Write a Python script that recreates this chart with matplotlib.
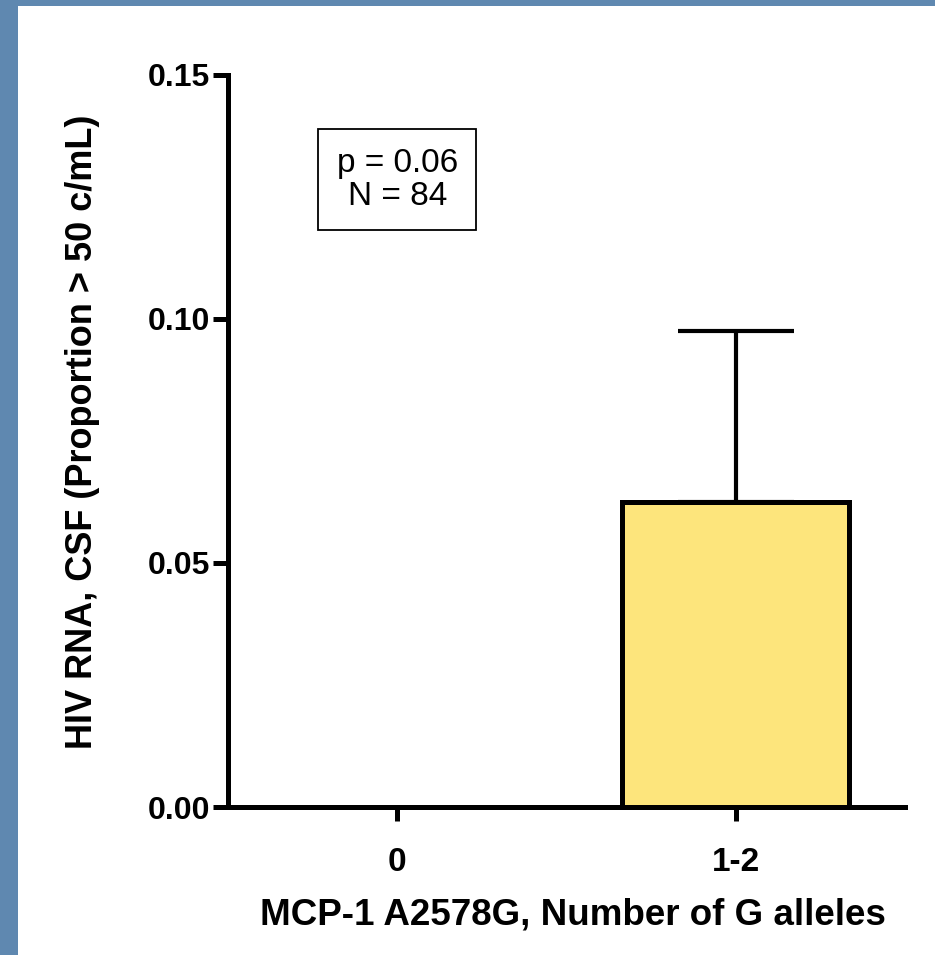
import matplotlib
matplotlib.use("Agg")
import matplotlib.pyplot as plt
from matplotlib.patches import Rectangle

categories = ["0", "1-2"]
values = [0.0, 0.0625]
errors_upper = [0.0, 0.035]
yticks = [0.00, 0.05, 0.10, 0.15]
ytick_labels = ["0.00", "0.05", "0.10", "0.15"]
annotation = "p = 0.06\nN = 84"
xlabel = "MCP-1 A2578G, Number of G alleles"
ylabel = "HIV RNA, CSF (Proportion > 50 c/mL)"

plt.rcParams['font.family'] = ['Liberation Sans', 'DejaVu Sans']

fig = plt.figure(figsize=(9.35, 9.55), dpi=100)
fig.patch.set_facecolor('white')
# blue slide border
fig.add_artist(Rectangle((0, 0), 18/935, 1, transform=fig.transFigure,
                         facecolor='#5f88b0', edgecolor='none', zorder=0))
fig.add_artist(Rectangle((0, 1 - 6/955), 1, 6/955, transform=fig.transFigure,
                         facecolor='#5f88b0', edgecolor='none', zorder=0))

ax = fig.add_axes([228/935, 1 - 807/955, (905 - 228)/935, (807 - 75)/955])
x = list(range(len(categories)))
ax.bar(x, values, width=0.67, color='#fde57c', edgecolor='black', linewidth=3.6, zorder=2)
ax.errorbar(x[1:], values[1:], yerr=[[0.0], errors_upper[1:]], fmt='none',
            ecolor='black', elinewidth=3, capsize=42, capthick=3, zorder=1)

ax.set_xlim(-0.5, 1.5)
ax.set_ylim(0, 0.15)
ax.set_xticks(x)
ax.set_xticklabels(categories, fontsize=24, fontweight='bold')
ax.set_yticks(yticks)
ax.set_yticklabels(ytick_labels, fontsize=23, fontweight='bold')

for s in ['top', 'right']:
    ax.spines[s].set_visible(False)
for s in ['left', 'bottom']:
    ax.spines[s].set_linewidth(3.6)
ax.tick_params(axis='y', length=11, width=3.6, pad=2)
ax.tick_params(axis='x', length=10, width=3.6, pad=19)

ax.set_xlabel(xlabel, fontsize=26.5, fontweight='bold')
ax.xaxis.set_label_coords(0.51, -0.124)
ax.xaxis.label.set_va('top')
ax.set_ylabel(ylabel, fontsize=26, fontweight='bold')
ax.yaxis.set_label_coords(-0.189, 0.513)

ax.text(0.0, 0.1285, annotation, ha='center', va='center', fontsize=24,
        linespacing=1.1,
        bbox=dict(boxstyle='square,pad=0.55', facecolor='white', edgecolor='black', linewidth=1.3))

fig.savefig("out.png", dpi=100, facecolor='white')
